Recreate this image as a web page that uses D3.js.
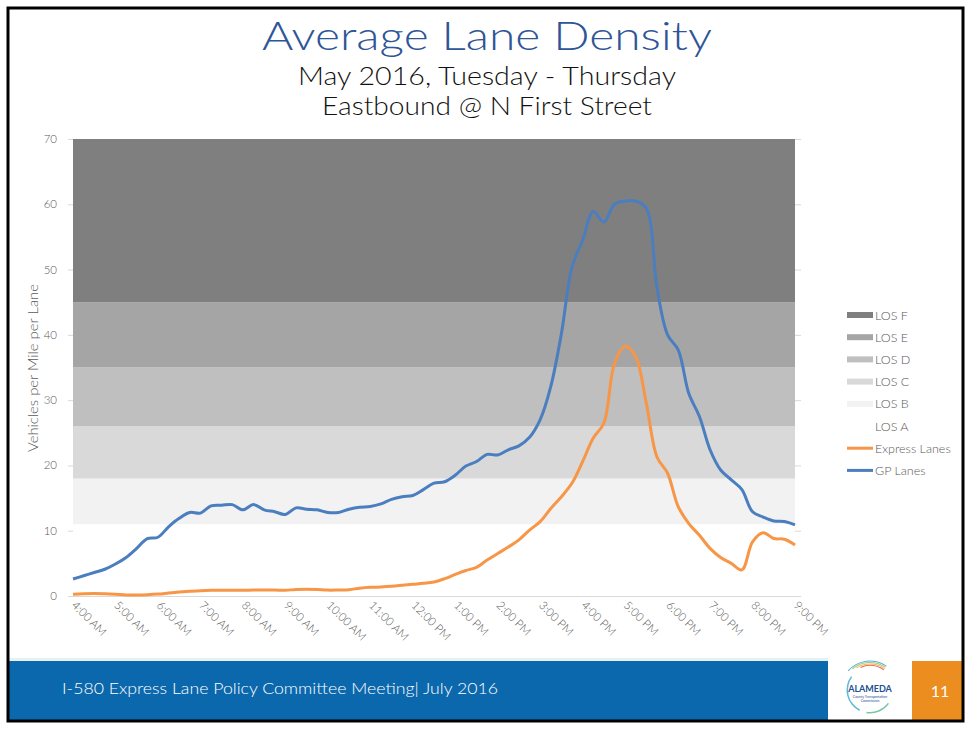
<!DOCTYPE html>
<html>
<head>
<meta charset="utf-8">
<script src="https://cdn.jsdelivr.net/npm/d3@7/dist/d3.min.js"></script>
<style>
  body { margin: 0; background: #fff; }
  text { font-family: "Century Gothic", Lato, "DejaVu Sans", sans-serif; }
</style>
</head>
<body>
<svg id="slide" width="969" height="729"></svg>
<script>
// time labels, one per hour (data is every 15 minutes)
var hourLabels = ["4:00 AM", "5:00 AM", "6:00 AM", "7:00 AM", "8:00 AM", "9:00 AM", "10:00 AM",
    "11:00 AM", "12:00 PM", "1:00 PM", "2:00 PM", "3:00 PM", "4:00 PM", "5:00 PM", "6:00 PM",
    "7:00 PM", "8:00 PM", "9:00 PM"];

// GP lanes density, 4:00 AM .. 9:00 PM every 15 min
var gpLanes = [2.6, 3.1, 3.6, 4.1, 4.9, 5.9, 7.3, 8.8, 9.0, 10.6, 11.9, 12.8, 12.7, 13.8, 13.9, 14.0,
    13.2, 14.0, 13.2, 12.9, 12.5, 13.5, 13.3, 13.2, 12.8, 12.8, 13.3, 13.6, 13.7, 14.1, 14.8, 15.2,
    15.4, 16.3, 17.3, 17.5, 18.5, 19.9, 20.6, 21.7, 21.6, 22.4, 23.0, 24.3, 27.0, 32.1, 40.2, 50.4,
    54.5, 58.9, 57.3, 60.0, 60.5, 60.5, 59.4, 47.2, 40.0, 37.7, 31.0, 27.5, 22.4, 19.3, 17.8, 16.3,
    12.9, 12.1, 11.5, 11.4, 10.9];

// Express lanes density
var expressLanes = [0.26, 0.35, 0.4, 0.35, 0.26, 0.15, 0.15, 0.2, 0.3, 0.45, 0.6, 0.72, 0.82, 0.87,
    0.87, 0.87, 0.87, 0.92, 0.92, 0.92, 0.87, 1.0, 1.05, 1.0, 0.9, 0.92, 0.97, 1.2, 1.33, 1.38, 1.48,
    1.63, 1.79, 1.94, 2.14, 2.65, 3.3, 3.9, 4.4, 5.5, 6.5, 7.5, 8.6, 10.1, 11.4, 13.4, 15.2, 17.3,
    20.6, 24.2, 26.5, 35.6, 38.3, 36.6, 29.5, 21.3, 18.8, 13.7, 11.1, 9.3, 7.3, 5.9, 5.0, 4.0, 8.3,
    9.7, 8.8, 8.7, 7.8];

// level of service bands (lower bound of each band .. next)
var losNames = ["LOS A", "LOS B", "LOS C", "LOS D", "LOS E", "LOS F"];
var losBreaks = [0, 11, 18, 26, 35, 45, 70];
var losColors = ["#ffffff", "#f2f2f2", "#d9d9d9", "#bfbfbf", "#a5a5a5", "#7f7f7f"];

var yTicks = [0, 10, 20, 30, 40, 50, 60, 70];

var svg = d3.select("#slide");
var gray = "#595959";

svg.append("rect").attr("width", 969).attr("height", 729).attr("fill", "#fff");

// titles
svg.append("text").attr("x", 487).attr("y", 50).attr("text-anchor", "middle")
    .attr("font-size", 40).attr("font-weight", 300).attr("fill", "#2e5597")
    .attr("textLength", 450).attr("lengthAdjust", "spacingAndGlyphs")
    .text("Average Lane Density");
svg.append("text").attr("x", 487).attr("y", 85).attr("text-anchor", "middle")
    .attr("font-size", 25).attr("font-weight", 300).attr("fill", "#111")
    .attr("textLength", 378).attr("lengthAdjust", "spacingAndGlyphs")
    .text("May 2016, Tuesday - Thursday");
svg.append("text").attr("x", 487).attr("y", 115).attr("text-anchor", "middle")
    .attr("font-size", 25).attr("font-weight", 300).attr("fill", "#111")
    .attr("textLength", 330).attr("lengthAdjust", "spacingAndGlyphs")
    .text("Eastbound @ N First Street");

// scales
var x = d3.scaleLinear().domain([0, gpLanes.length - 1]).range([73, 795]);
var y = d3.scaleLinear().domain([0, 70]).range([596, 139]);

var chart = svg.append("g");

// gridlines
chart.selectAll(".grid").data(yTicks).enter().append("line")
    .attr("x1", 68).attr("x2", 801)
    .attr("y1", function (d) { return y(d) + 0.5; })
    .attr("y2", function (d) { return y(d) + 0.5; })
    .attr("stroke", "#d9d9d9").attr("stroke-width", 1);

// LOS bands
chart.selectAll(".band").data(losNames).enter().append("rect")
    .attr("x", x(0))
    .attr("width", x(gpLanes.length - 1) - x(0))
    .attr("y", function (d, i) { return y(losBreaks[i + 1]); })
    .attr("height", function (d, i) { return y(losBreaks[i]) - y(losBreaks[i + 1]); })
    .attr("fill", function (d, i) { return losColors[i]; });

// x axis line
chart.append("line").attr("x1", 68).attr("x2", 801).attr("y1", 596.5).attr("y2", 596.5)
    .attr("stroke", "#d9d9d9");

// y tick labels
chart.selectAll(".ylab").data(yTicks).enter().append("text")
    .attr("x", 57).attr("y", function (d) { return y(d) + 4; })
    .attr("text-anchor", "end").attr("font-size", 11.5).attr("font-weight", 300).attr("fill", gray)
    .text(function (d) { return d; });

chart.append("text")
    .attr("transform", "translate(38,368) rotate(-90)")
    .attr("text-anchor", "middle").attr("font-size", 13).attr("font-weight", 300).attr("fill", gray)
    .attr("textLength", 168).attr("lengthAdjust", "spacingAndGlyphs")
    .text("Vehicles per Mile per Lane");

// x tick labels, rotated
chart.selectAll(".xlab").data(hourLabels).enter().append("text")
    .attr("transform", function (d, i) {
        return "translate(" + (x(i * 4) - 2) + ",606) rotate(45)";
    })
    .attr("font-size", 11.5).attr("font-weight", 300).attr("fill", gray)
    .text(function (d) { return d; });

// lines
var line = d3.line()
    .curve(d3.curveCatmullRom.alpha(0.5))
    .x(function (d, i) { return x(i); })
    .y(function (d) { return y(d); });

chart.append("path").datum(expressLanes)
    .attr("fill", "none").attr("stroke", "#f79646").attr("stroke-width", 3)
    .attr("stroke-linejoin", "round").attr("d", line);

chart.append("path").datum(gpLanes)
    .attr("fill", "none").attr("stroke", "#4a7ebf").attr("stroke-width", 3)
    .attr("stroke-linejoin", "round").attr("d", line);

// legend
var legendItems = losNames.map(function (n, i) {
    return { name: n, color: losColors[i], type: "box" };
}).reverse();
legendItems.push({ name: "Express Lanes", color: "#f79646", type: "line" });
legendItems.push({ name: "GP Lanes", color: "#4a7ebf", type: "line" });

var legend = svg.selectAll(".legend").data(legendItems).enter().append("g")
    .attr("transform", function (d, i) { return "translate(847," + (315 + i * 22.2) + ")"; });

legend.append("rect")
    .attr("x", 0).attr("width", 26)
    .attr("y", function (d) { return d.type == "box" ? -3 : -1.5; })
    .attr("height", function (d) { return d.type == "box" ? 6 : 3; })
    .attr("fill", function (d) { return d.color; });

legend.append("text").attr("x", 28).attr("y", 4.5)
    .attr("font-size", 12.5).attr("font-weight", 300).attr("fill", gray)
    .text(function (d) { return d.name; });

// footer
svg.append("rect").attr("x", 8).attr("y", 658).attr("width", 820).attr("height", 3).attr("fill", "#e6f2f2");
svg.append("rect").attr("x", 8).attr("y", 661).attr("width", 820).attr("height", 60).attr("fill", "#0b68ad");
svg.append("text").attr("x", 62).attr("y", 694).attr("font-size", 15).attr("font-weight", 300).attr("fill", "#fff")
    .attr("textLength", 436).attr("lengthAdjust", "spacingAndGlyphs")
    .text("I-580 Express Lane Policy Committee Meeting| July 2016");

svg.append("rect").attr("x", 912).attr("y", 661).attr("width", 51).attr("height", 60).attr("fill", "#ec8d1f");
svg.append("text").attr("x", 940).attr("y", 697).attr("text-anchor", "middle")
    .attr("font-size", 16).attr("fill", "#fff").text("11");

// logo (rough)
var logo = svg.append("g").attr("transform", "translate(870,690)");
var arcColors = ["#e0453a", "#f0a030", "#8cc34a", "#2a9bd6"];
arcColors.forEach(function (c, i) {
    logo.append("path")
        .attr("d", d3.arc()({ innerRadius: 24 + i * 1.5, outerRadius: 25 + i * 1.5, startAngle: -0.4 - i * 0.15, endAngle: 0.6 }))
        .attr("fill", c).attr("opacity", 0.8);
});
logo.append("path")
    .attr("d", d3.arc()({ innerRadius: 22, outerRadius: 23.5, startAngle: Math.PI * 1.15, endAngle: Math.PI * 1.7 }))
    .attr("fill", "#3aa6c8").attr("opacity", 0.8);
logo.append("path")
    .attr("d", d3.arc()({ innerRadius: 22, outerRadius: 23.5, startAngle: Math.PI * 0.7, endAngle: Math.PI * 1.05 }))
    .attr("fill", "#5ab88f").attr("opacity", 0.8);
logo.append("text").attr("x", 0).attr("y", 2).attr("text-anchor", "middle")
    .attr("font-size", 9).attr("font-weight", "bold").attr("fill", "#1d4f91").text("ALAMEDA");
logo.append("text").attr("x", 0).attr("y", 8).attr("text-anchor", "middle")
    .attr("font-size", 3.5).attr("fill", "#1d4f91").text("County Transportation");
logo.append("text").attr("x", 0).attr("y", 12).attr("text-anchor", "middle")
    .attr("font-size", 3.5).attr("fill", "#1d4f91").text("Commission");

// slide border
svg.append("rect").attr("x", 8).attr("y", 8).attr("width", 955).attr("height", 713)
    .attr("fill", "none").attr("stroke", "#000").attr("stroke-width", 3);
</script>
</body>
</html>
